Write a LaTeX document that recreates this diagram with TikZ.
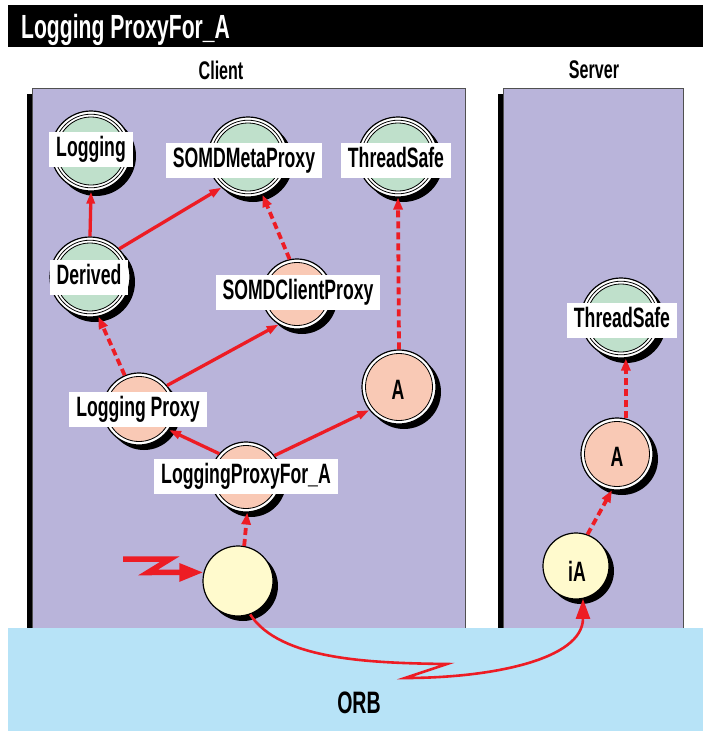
\documentclass[tikz,border=0pt]{standalone}
\usepackage{fontspec}
\setmainfont[FakeStretch=0.63,UprightFont=* Bold]{Liberation Sans}
\usetikzlibrary{arrows.meta,calc}
\definecolor{boxpurple}{HTML}{B9B4DA}
\definecolor{orbblue}{HTML}{B7E3F7}
\definecolor{gfill}{HTML}{BFE0CB}
\definecolor{sfill}{HTML}{F9C9B5}
\definecolor{yfill}{HTML}{FFFACD}
\definecolor{arrred}{HTML}{ED1C24}
\definecolor{boxedge}{HTML}{505050}
\tikzset{
  outerring/.style={circle, draw=black, line width=1.2, fill=white, inner sep=0pt},
  plainring/.style={circle, draw=black, line width=1.2, fill=yfill, inner sep=0pt},
  lab/.style={fill=white, inner xsep=7pt, inner ysep=5pt, text height=20pt, text depth=5pt, font=\fontsize{28}{30}\selectfont},
  plainlab/.style={inner sep=0pt, font=\fontsize{28}{30}\selectfont},
  headtext/.style={font=\fontsize{25.5}{30}\selectfont},
  solidarrow/.style={draw=arrred, line width=3.3, -{Triangle[length=12pt,width=8pt]}},
  dasharrow/.style={draw=arrred, line width=3.8, dash pattern=on 7pt off 4pt, -{Triangle[length=12pt,width=9pt]}},
  orbarrow/.style={draw=arrred, line width=2.6, line join=miter, -{Triangle[length=20pt,width=14pt]}},
  zaparrow/.style={draw=arrred, line width=5.5, line join=miter, miter limit=10, -{Triangle[length=24pt,width=17pt]}},
}
\newcommand\GreenNode[4]{%
  \fill[black] (#2+5,#3+5) circle[radius=#4];
  \node[outerring, minimum size=2*#4] (#1) at (#2,#3) {};
  \draw[line width=0.8] (#2,#3) circle[radius=#4-3.2];
  \draw[fill=gfill, line width=0.8] (#2,#3) circle[radius=#4-6];
}
\newcommand\SalmonNode[4]{%
  \fill[black] (#2+5,#3+5) circle[radius=#4];
  \node[outerring, minimum size=2*#4] (#1) at (#2,#3) {};
  \draw[fill=sfill, line width=0.8] (#2,#3) circle[radius=#4-3.5];
}
\newcommand\YellowNode[4]{%
  \fill[black] (#2+5,#3+5) circle[radius=#4];
  \node[plainring, minimum size=2*#4] (#1) at (#2,#3) {};
}
\begin{document}
\begin{tikzpicture}[x=1pt,y=-1pt]
\useasboundingbox (0,0) rectangle (703,731);
% title bar
\fill[black] (8,5) rectangle (703,47);
\node[anchor=base west, text=white, inner sep=0pt, font=\fontsize{33.5}{38}\selectfont] (title) at (21,38) {Logging ProxyFor\_A};
% column heads
\node[headtext] (clienthead) at (221,70) {Client};
\node[headtext] (serverhead) at (594,70) {Server};
% boxes
\fill[black] (27,94) rectangle (33,628);
\draw[fill=boxpurple, draw=boxedge, line width=0.8] (32,88) rectangle (465,640);
\fill[black] (498,94) rectangle (504,628);
\draw[fill=boxpurple, draw=boxedge, line width=0.8] (503,88) rectangle (683,640);
% ORB band
\fill[orbblue] (8,628) rectangle (703,731);
\node[font=\fontsize{31}{36}\selectfont] (orb) at (359,703) {ORB};
% nodes
\GreenNode{log}{91}{151}{40}
\GreenNode{meta}{248}{157}{40}
\GreenNode{tsc}{398}{157}{40}
\GreenNode{der}{90}{277}{40}
\SalmonNode{scp}{297}{294}{35}
\SalmonNode{lp}{139}{409}{36}
\SalmonNode{ac}{399}{387}{37}
\SalmonNode{lpa}{246}{477}{35}
\YellowNode{yc}{238}{581}{35}
\GreenNode{tss}{621}{318}{40}
\SalmonNode{as}{617}{454}{36}
\YellowNode{ia}{576}{566}{33}
% edges
\draw[solidarrow] (der.90) -- (log.270);
\draw[solidarrow] (der.44) -- (meta.229);
\draw[solidarrow] (lp.40) -- (scp.239);
\draw[solidarrow] (lpa.139) -- (lp.325);
\draw[solidarrow] (lpa.37) -- (ac.218);
\draw[dasharrow] (scp.102) -- (meta.291);
\draw[dasharrow] (lp.113) -- (der.282);
\draw[dasharrow] (ac.90) -- (tsc.270);
\draw[dasharrow] (yc.80) -- (lpa.272);
\draw[dasharrow] (as.76) -- (tss.south -| as.76);
\draw[dasharrow] (ia.70) -- (as.262);
% ORB call
\draw[orbarrow] (yc.290) .. controls (280,660) and (370,663) .. (447,664) -- (405,678) .. controls (490,678) and (583,660) .. (ia.282);
% incoming request
\coordinate (zap) at (123,559);
\draw[zaparrow] (zap) -- (170,559) -- (148,572.5) -- (yc.166);
% labels
\node[lab] (log-l) at (91,149) {Logging};
\node[lab] (meta-l) at (244,160) {SOMDMetaProxy};
\node[lab] (tsc-l) at (396,160) {ThreadSafe};
\node[lab] (der-l) at (89,277) {Derived};
\node[lab] (scp-l) at (298,292) {SOMDClientProxy};
\node[lab] (lp-l) at (138,409) {Logging Proxy};
\node[plainlab] (ac-l) at (398,390) {A};
\node[lab] (lpa-l) at (246,476) {LoggingProxyFor\_A};
\node[lab] (tss-l) at (622,320) {ThreadSafe};
\node[plainlab] (as-l) at (617,457) {A};
\node[plainlab] (ia-l) at (577,571) {iA};
\end{tikzpicture}
\end{document}
